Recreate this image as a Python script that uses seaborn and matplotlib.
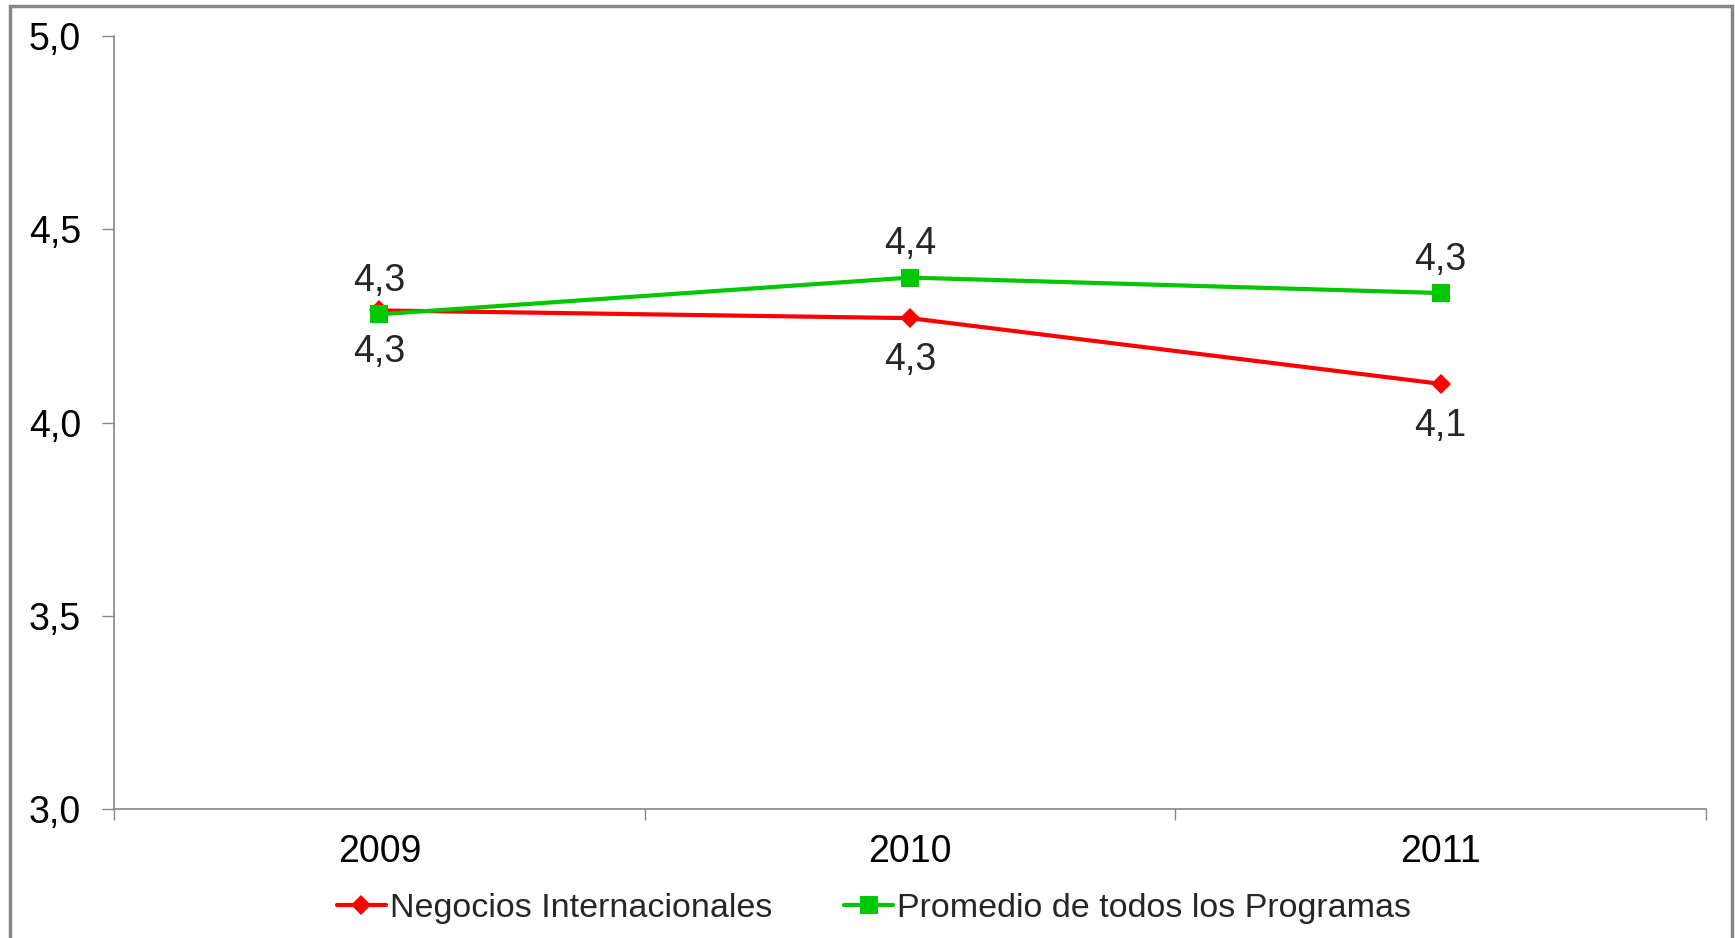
import matplotlib
matplotlib.use("Agg")
import matplotlib.pyplot as plt
import seaborn as sns
import pandas as pd
from matplotlib.ticker import FuncFormatter, FixedLocator
from matplotlib.patches import Rectangle

years = ["2009", "2010", "2011"]
negocios = [4.29, 4.27, 4.10]
promedio = [4.28, 4.375, 4.335]
series_names = ["Negocios Internacionales", "Promedio de todos los Programas"]
yticks = [3.0, 3.5, 4.0, 4.5, 5.0]

df = pd.DataFrame({
    "year": years * 2,
    "value": negocios + promedio,
    "serie": [series_names[0]] * 3 + [series_names[1]] * 3,
})

sns.set_theme(style="white")
plt.rcParams["font.family"] = ["Liberation Sans", "DejaVu Sans"]

fig = plt.figure(figsize=(17.35, 9.38), dpi=100)
ax = fig.add_axes([114 / 1735, 1 - 809 / 938, (1706 - 114) / 1735, (809 - 36) / 938])

palette = {series_names[0]: "#FF0000", series_names[1]: "#00C800"}
markers = {series_names[0]: "D", series_names[1]: "s"}
sns.lineplot(data=df, x="year", y="value", hue="serie", style="serie",
             palette=palette, markers=markers, dashes=False, linewidth=3,
             markersize=11, markeredgewidth=0, ax=ax, legend=True, sort=False)
for line in ax.lines:
    if line.get_marker() == "s":
        line.set_markersize(13)
    elif line.get_marker() == "D":
        line.set_markersize(10)

ax.set_xlim(-0.5, 2.5)
ax.set_ylim(3.0, 5.0)
ax.set_yticks(yticks)
ax.yaxis.set_major_formatter(FuncFormatter(lambda v, p: f"{v:.1f}".replace(".", ",")))
ax.set_xlabel("")
ax.set_ylabel("")

ax.xaxis.set_minor_locator(FixedLocator([-0.5, 0.5, 1.5, 2.5]))
ax.tick_params(axis="x", which="major", length=0, pad=18, labelsize=27, colors="black")
ax.tick_params(axis="x", which="minor", length=8, width=1, color="#868686", bottom=True)
ax.tick_params(axis="y", which="major", length=8.6, width=1, color="#868686", pad=15,
               labelsize=27, left=True, labelcolor="black")

for s in ["top", "right"]:
    ax.spines[s].set_visible(False)
for s in ["left", "bottom"]:
    ax.spines[s].set_color("#868686")
    ax.spines[s].set_linewidth(1.2)

for i, v in enumerate(negocios):
    ax.annotate(f"{v:.1f}".replace(".", ","), (i, v), xytext=(0, -30),
                textcoords="offset points", ha="center", va="center", fontsize=27)
for i, v in enumerate(promedio):
    ax.annotate(f"{v:.1f}".replace(".", ","), (i, v), xytext=(0, 24),
                textcoords="offset points", ha="center", va="center", fontsize=27)

leg = ax.legend(loc="center", ncol=2, frameon=False, fontsize=24.5, handlelength=1.45,
                handletextpad=0.12, columnspacing=2.1, borderaxespad=0)
for h in leg.legend_handles:
    h.set_linewidth(3)
leg.set_bbox_to_anchor(((874 - 114) / 1592, -(908 - 809) / 773), transform=ax.transAxes)

fig.patches.append(Rectangle((10 / 1735, -0.05), (1732 - 10) / 1735, 1.05 - 6 / 938,
                             transform=fig.transFigure, fill=False,
                             edgecolor="#868686", linewidth=2.5, figure=fig))

fig.savefig("out.png", dpi=100, facecolor="white")
